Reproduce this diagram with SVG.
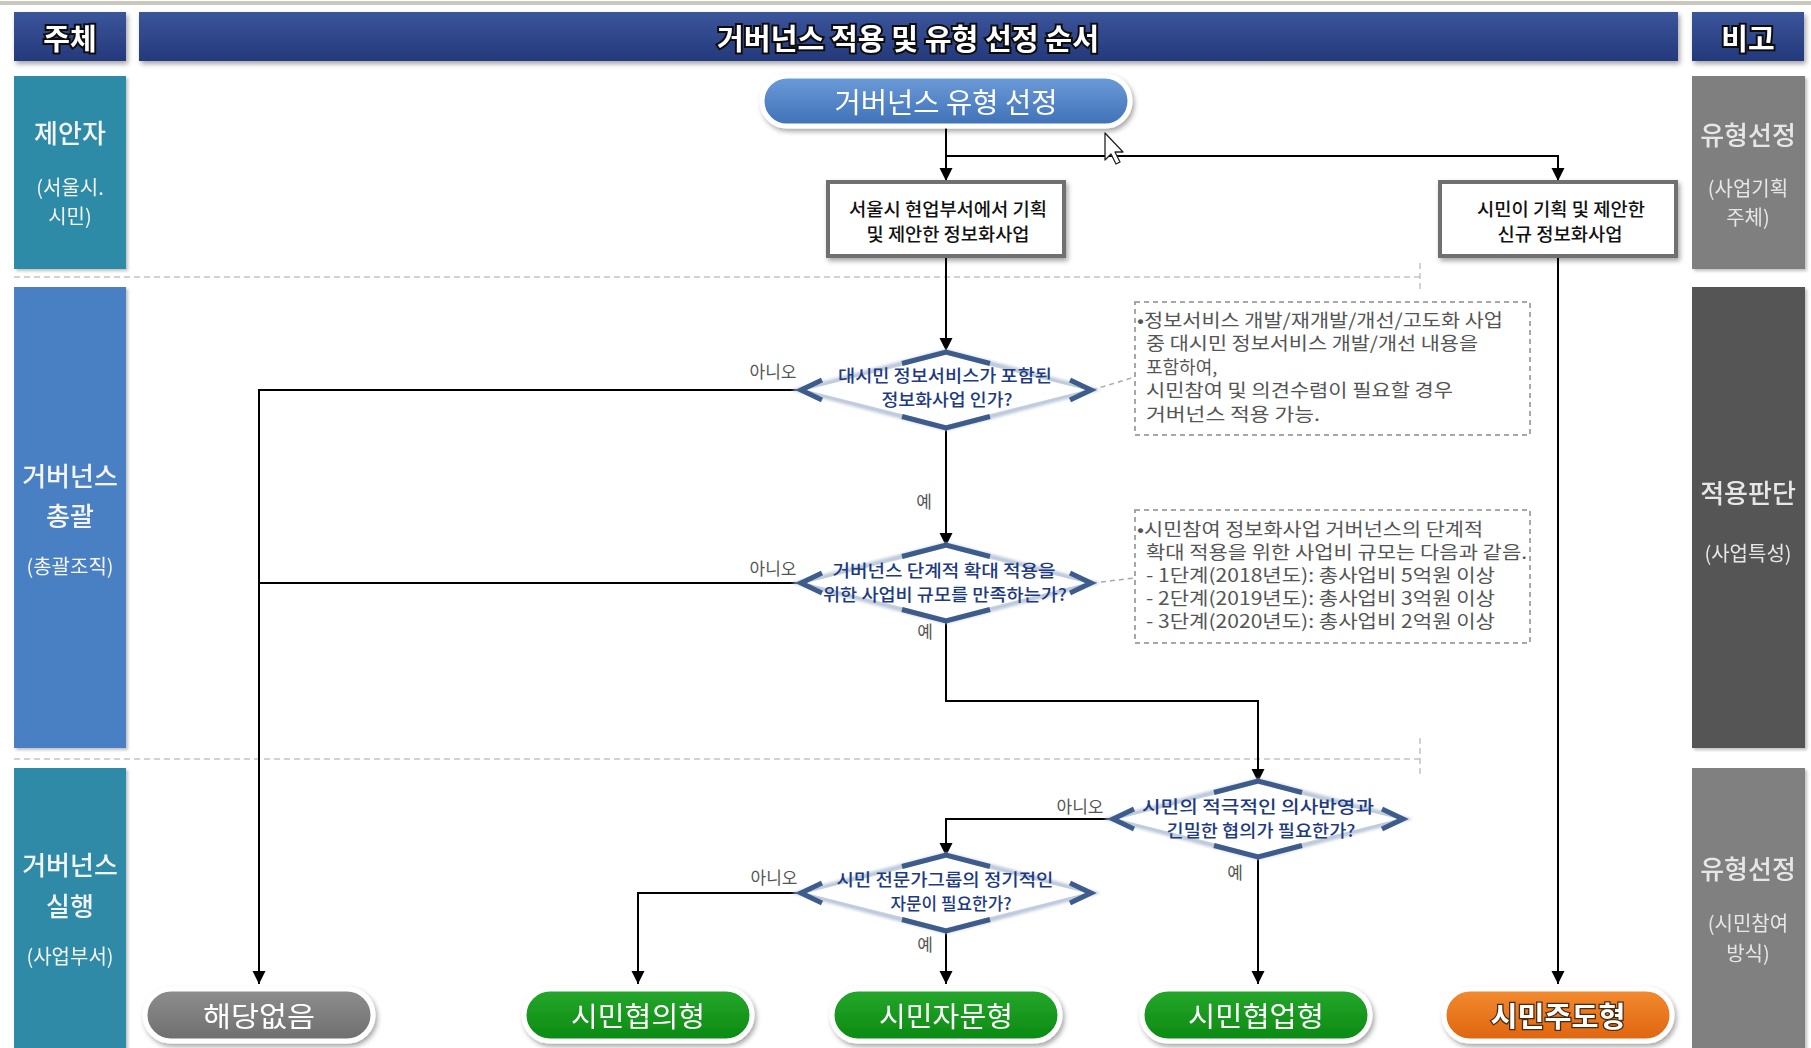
<svg xmlns="http://www.w3.org/2000/svg" width="1811" height="1048" viewBox="0 0 1811 1048">
<defs>
<linearGradient id="gNavy" x1="0" y1="0" x2="0" y2="1"><stop offset="0" stop-color="#3b559b"/><stop offset="1" stop-color="#24397b"/></linearGradient>
<linearGradient id="gBlue" x1="0" y1="0" x2="0" y2="1"><stop offset="0" stop-color="#6d9cda"/><stop offset="1" stop-color="#3e70b6"/></linearGradient>
<linearGradient id="gGreen" x1="0" y1="0" x2="0" y2="1"><stop offset="0" stop-color="#25a82c"/><stop offset="1" stop-color="#0b8911"/></linearGradient>
<linearGradient id="gOrange" x1="0" y1="0" x2="0" y2="1"><stop offset="0" stop-color="#f38b30"/><stop offset="1" stop-color="#df640e"/></linearGradient>
<linearGradient id="gGray" x1="0" y1="0" x2="0" y2="1"><stop offset="0" stop-color="#8e8e8e"/><stop offset="1" stop-color="#6e6e6e"/></linearGradient>
<filter id="sh" x="-10%" y="-10%" width="130%" height="150%"><feDropShadow dx="2" dy="3" stdDeviation="2.5" flood-color="#000" flood-opacity="0.35"/></filter>
<filter id="shs" x="-10%" y="-5%" width="130%" height="115%"><feDropShadow dx="2" dy="2" stdDeviation="1.5" flood-color="#000" flood-opacity="0.25"/></filter>
<filter id="glow" x="-10%" y="-30%" width="120%" height="160%"><feGaussianBlur stdDeviation="1.6"/></filter>
<filter id="soft" x="-10%" y="-30%" width="120%" height="160%"><feGaussianBlur stdDeviation="0.7"/></filter>
<marker id="arr" markerWidth="14" markerHeight="14" refX="13" refY="6.5" orient="auto" markerUnits="userSpaceOnUse"><path d="M0,0 L13,6.5 L0,13 Z" fill="#000"/></marker>
<g id="dia">
<path d="M-145,0 L0,-38 L145,0 L0,38 Z" fill="#eef2f8" stroke="#b9c6d9" stroke-width="5" filter="url(#glow)"/>
<path d="M-140,0 L0,-35 L140,0 L0,35 Z" fill="#ffffff"/>
<g fill="none" stroke="#3d5c8c" stroke-width="5" stroke-linejoin="miter" filter="url(#soft)">
<path d="M-124,-10 L-145,0 L-124,10"/>
<path d="M124,-10 L145,0 L124,10"/>
<path d="M-44,-26.5 L0,-38 L44,-26.5"/>
<path d="M-44,26.5 L0,38 L44,26.5"/>
</g>
</g>
</defs>
<style>
.t{font-family:"Noto Sans CJK KR","Noto Sans",sans-serif}
.hd{font-size:29px;font-weight:bold;fill:#fff;stroke:#111;stroke-width:4px;paint-order:stroke;text-anchor:middle}
.lb{font-size:26px;fill:#f4f4f4;text-anchor:middle;font-weight:500}
.ls{font-size:20px;fill:#f4f4f4;text-anchor:middle}
.rb{font-size:26px;fill:#e6e6e6;text-anchor:middle;font-weight:500}
.rs{font-size:20px;fill:#e6e6e6;text-anchor:middle}
.bx{fill:#fff;stroke:#6f6f6f;stroke-width:4}
.bt{font-size:18px;fill:#111;text-anchor:middle;font-weight:500}
.dt{font-size:17px;fill:#1d3a82;text-anchor:middle;font-weight:500}
.pt{font-size:28px;fill:#fff;text-anchor:middle}
.pill{stroke:#fff;stroke-width:5}
.conn{fill:none;stroke:#000;stroke-width:2}
.lab{font-size:17px;fill:#555;text-anchor:middle}
.note{fill:none;stroke:#8a8a8a;stroke-width:1.5;stroke-dasharray:5 4}
.nt{font-size:18px;fill:#555}
.sep{fill:none;stroke:#c4c4c4;stroke-width:1.5;stroke-dasharray:6 4}
</style>

<rect x="0" y="1" width="1811" height="4" fill="#cbc7bd"/>
<rect x="0" y="5" width="1811" height="1043" fill="#ffffff"/>

<!-- header row -->
<g id="hdr-subject" filter="url(#sh)">
<rect x="14" y="12" width="112" height="49" fill="url(#gNavy)"/>
<text class="t hd" x="70" y="50">주체</text>
</g>
<g id="hdr-title" filter="url(#sh)">
<rect x="139" y="12" width="1539" height="49" fill="url(#gNavy)"/>
<text class="t hd" x="908" y="50" font-size="30" textLength="382" lengthAdjust="spacingAndGlyphs">거버넌스 적용 및 유형 선정 순서</text>
</g>
<g id="hdr-note" filter="url(#sh)">
<rect x="1692" y="12" width="112" height="49" fill="url(#gNavy)"/>
<text class="t hd" x="1748" y="50">비고</text>
</g>

<!-- separators -->
<g id="separators">
<path class="sep" d="M14,277 H1420 M1420,263 V292"/>
<path class="sep" d="M14,759 H1420 M1420,738 V777"/>
</g>

<!-- left lane labels -->
<g id="lane-proposer" filter="url(#shs)">
<rect x="14" y="76" width="112" height="193" fill="#2d8ba8"/>
<text class="t lb" x="70" y="143">제안자</text>
<text class="t ls" x="70" y="195">(서울시.</text>
<text class="t ls" x="70" y="224">시민)</text>
</g>
<g id="lane-general" filter="url(#shs)">
<rect x="14" y="287" width="112" height="461" fill="#4a80c3"/>
<text class="t lb" x="70" y="486">거버넌스</text>
<text class="t lb" x="70" y="526">총괄</text>
<text class="t ls" x="70" y="574">(총괄조직)</text>
</g>
<g id="lane-exec" filter="url(#shs)">
<rect x="14" y="768" width="112" height="285" fill="#2d8aa6"/>
<text class="t lb" x="70" y="875">거버넌스</text>
<text class="t lb" x="70" y="916">실행</text>
<text class="t ls" x="70" y="964">(사업부서)</text>
</g>

<!-- right lane labels -->
<g id="note-type1" filter="url(#shs)">
<rect x="1692" y="76" width="113" height="193" fill="#7f7f7f"/>
<text class="t rb" x="1748" y="145">유형선정</text>
<text class="t rs" x="1748" y="196">(사업기획</text>
<text class="t rs" x="1748" y="225">주체)</text>
</g>
<g id="note-judge" filter="url(#shs)">
<rect x="1692" y="287" width="113" height="461" fill="#555555"/>
<text class="t rb" x="1748" y="503">적용판단</text>
<text class="t rs" x="1748" y="561">(사업특성)</text>
</g>
<g id="note-type2" filter="url(#shs)">
<rect x="1692" y="768" width="113" height="285" fill="#808080"/>
<text class="t rb" x="1748" y="879">유형선정</text>
<text class="t rs" x="1748" y="931">(시민참여</text>
<text class="t rs" x="1748" y="961">방식)</text>
</g>

<!-- connectors -->
<g id="connectors">
<path class="conn" d="M946,128 V156"/>
<path class="conn" d="M946,156 V181" marker-end="url(#arr)"/>
<path class="conn" d="M946,156 H1558 V181" marker-end="url(#arr)"/>
<path class="conn" d="M946,257 V351" marker-end="url(#arr)"/>
<path class="conn" d="M801,390 H259 V984" marker-end="url(#arr)"/>
<path class="conn" d="M946,428 V546" marker-end="url(#arr)"/>
<path class="conn" d="M801,583 H259"/>
<path class="conn" d="M946,621 V701 H1258 V782" marker-end="url(#arr)"/>
<path class="conn" d="M1113,819 H946 V856" marker-end="url(#arr)"/>
<path class="conn" d="M1258,857 V984" marker-end="url(#arr)"/>
<path class="conn" d="M801,893 H638 V984" marker-end="url(#arr)"/>
<path class="conn" d="M946,931 V984" marker-end="url(#arr)"/>
<path class="conn" d="M1558,257 V984" marker-end="url(#arr)"/>
<path d="M1092,390 L1135,377 M1092,583 L1135,578" fill="none" stroke="#aaaaaa" stroke-width="1.5" stroke-dasharray="5 4"/>
<text class="t lab" x="773" y="378">아니오</text>
<text class="t lab" x="773" y="575">아니오</text>
<text class="t lab" x="1080" y="813">아니오</text>
<text class="t lab" x="774" y="884">아니오</text>
<text class="t lab" x="924" y="508">예</text>
<text class="t lab" x="925" y="638">예</text>
<text class="t lab" x="1235" y="879">예</text>
<text class="t lab" x="925" y="951">예</text>
</g>

<!-- start pill -->
<g id="start" filter="url(#sh)">
<rect class="pill" x="762" y="76" width="368" height="50" rx="25" fill="url(#gBlue)"/>
<text class="t pt" x="946" y="113" font-size="29" textLength="223" lengthAdjust="spacingAndGlyphs">거버넌스 유형 선정</text>
</g>

<!-- boxes -->
<g id="box-seoul">
<rect class="bx" x="828" y="182" width="236" height="74" filter="url(#sh)"/>
<text class="t bt" x="948" y="216" textLength="198" lengthAdjust="spacingAndGlyphs">서울시 현업부서에서 기획</text>
<text class="t bt" x="948" y="241" textLength="163" lengthAdjust="spacingAndGlyphs">및 제안한 정보화사업</text>
</g>
<g id="box-citizen">
<rect class="bx" x="1440" y="182" width="236" height="74" filter="url(#sh)"/>
<text class="t bt" x="1561" y="216" textLength="168" lengthAdjust="spacingAndGlyphs">시민이 기획 및 제안한</text>
<text class="t bt" x="1560" y="241" textLength="125" lengthAdjust="spacingAndGlyphs">신규 정보화사업</text>
</g>

<!-- decisions -->
<g id="d1">
<use href="#dia" x="946" y="390"/>
<text class="t dt" x="945" y="382" textLength="214" lengthAdjust="spacingAndGlyphs">대시민 정보서비스가 포함된</text>
<text class="t dt" x="947" y="406" textLength="131" lengthAdjust="spacingAndGlyphs">정보화사업 인가?</text>
</g>
<g id="d2">
<use href="#dia" x="946" y="583"/>
<text class="t dt" x="944" y="577" textLength="223" lengthAdjust="spacingAndGlyphs">거버넌스 단계적 확대 적용을</text>
<text class="t dt" x="945" y="601" textLength="244" lengthAdjust="spacingAndGlyphs">위한 사업비 규모를 만족하는가?</text>
</g>
<g id="d3">
<use href="#dia" x="1258" y="819"/>
<text class="t dt" x="1258" y="813" textLength="232" lengthAdjust="spacingAndGlyphs">시민의 적극적인 의사반영과</text>
<text class="t dt" x="1261" y="837" textLength="189" lengthAdjust="spacingAndGlyphs">긴밀한 협의가 필요한가?</text>
</g>
<g id="d4">
<use href="#dia" x="946" y="893"/>
<text class="t dt" x="945" y="886" textLength="217" lengthAdjust="spacingAndGlyphs">시민 전문가그룹의 정기적인</text>
<text class="t dt" x="951" y="910" textLength="121" lengthAdjust="spacingAndGlyphs">자문이 필요한가?</text>
</g>

<!-- notes -->
<g id="note1">
<rect class="note" x="1135" y="302" width="395" height="133"/>
<text class="t nt" x="1137" y="327" textLength="366" lengthAdjust="spacingAndGlyphs">•정보서비스 개발/재개발/개선/고도화 사업</text>
<text class="t nt" x="1146" y="350" textLength="332" lengthAdjust="spacingAndGlyphs">중 대시민 정보서비스 개발/개선 내용을</text>
<text class="t nt" x="1146" y="374">포함하여,</text>
<text class="t nt" x="1146" y="397" textLength="307" lengthAdjust="spacingAndGlyphs">시민참여 및 의견수렴이 필요할 경우</text>
<text class="t nt" x="1146" y="421" textLength="174" lengthAdjust="spacingAndGlyphs">거버넌스 적용 가능.</text>
</g>
<g id="note2">
<rect class="note" x="1135" y="510" width="395" height="133"/>
<text class="t nt" x="1137" y="536" textLength="346" lengthAdjust="spacingAndGlyphs">•시민참여 정보화사업 거버넌스의 단계적</text>
<text class="t nt" x="1146" y="559" textLength="381" lengthAdjust="spacingAndGlyphs">확대 적용을 위한 사업비 규모는 다음과 같음.</text>
<text class="t nt" x="1146" y="582" textLength="349" lengthAdjust="spacingAndGlyphs">- 1단계(2018년도): 총사업비 5억원 이상</text>
<text class="t nt" x="1146" y="605" textLength="349" lengthAdjust="spacingAndGlyphs">- 2단계(2019년도): 총사업비 3억원 이상</text>
<text class="t nt" x="1146" y="628" textLength="349" lengthAdjust="spacingAndGlyphs">- 3단계(2020년도): 총사업비 2억원 이상</text>
</g>

<!-- outcome pills -->
<g id="out-none" filter="url(#sh)">
<rect class="pill" x="145" y="989" width="228" height="52" rx="26" fill="url(#gGray)"/>
<text class="t pt" x="259" y="1027" textLength="112" lengthAdjust="spacingAndGlyphs">해당없음</text>
</g>
<g id="out-consult" filter="url(#sh)">
<rect class="pill" x="524" y="989" width="228" height="52" rx="26" fill="url(#gGreen)"/>
<text class="t pt" x="638" y="1027" textLength="134" lengthAdjust="spacingAndGlyphs">시민협의형</text>
</g>
<g id="out-advise" filter="url(#sh)">
<rect class="pill" x="832" y="989" width="228" height="52" rx="26" fill="url(#gGreen)"/>
<text class="t pt" x="946" y="1027" textLength="134" lengthAdjust="spacingAndGlyphs">시민자문형</text>
</g>
<g id="out-collab" filter="url(#sh)">
<rect class="pill" x="1142" y="989" width="228" height="52" rx="26" fill="url(#gGreen)"/>
<text class="t pt" x="1256" y="1027" textLength="136" lengthAdjust="spacingAndGlyphs">시민협업형</text>
</g>
<g id="out-lead" filter="url(#sh)">
<rect class="pill" x="1444" y="989" width="228" height="52" rx="26" fill="url(#gOrange)"/>
<text class="t pt" x="1558" y="1027" textLength="135" lengthAdjust="spacingAndGlyphs" font-weight="bold" stroke="#4a2a10" stroke-width="2.5" paint-order="stroke">시민주도형</text>
</g>

<!-- mouse cursor -->
<path d="M1105,133 L1105,160 L1111,154 L1116,164 L1120,162 L1115,152 L1123,152 Z" fill="#fff" stroke="#222" stroke-width="1.3" stroke-linejoin="round"/>
</svg>
